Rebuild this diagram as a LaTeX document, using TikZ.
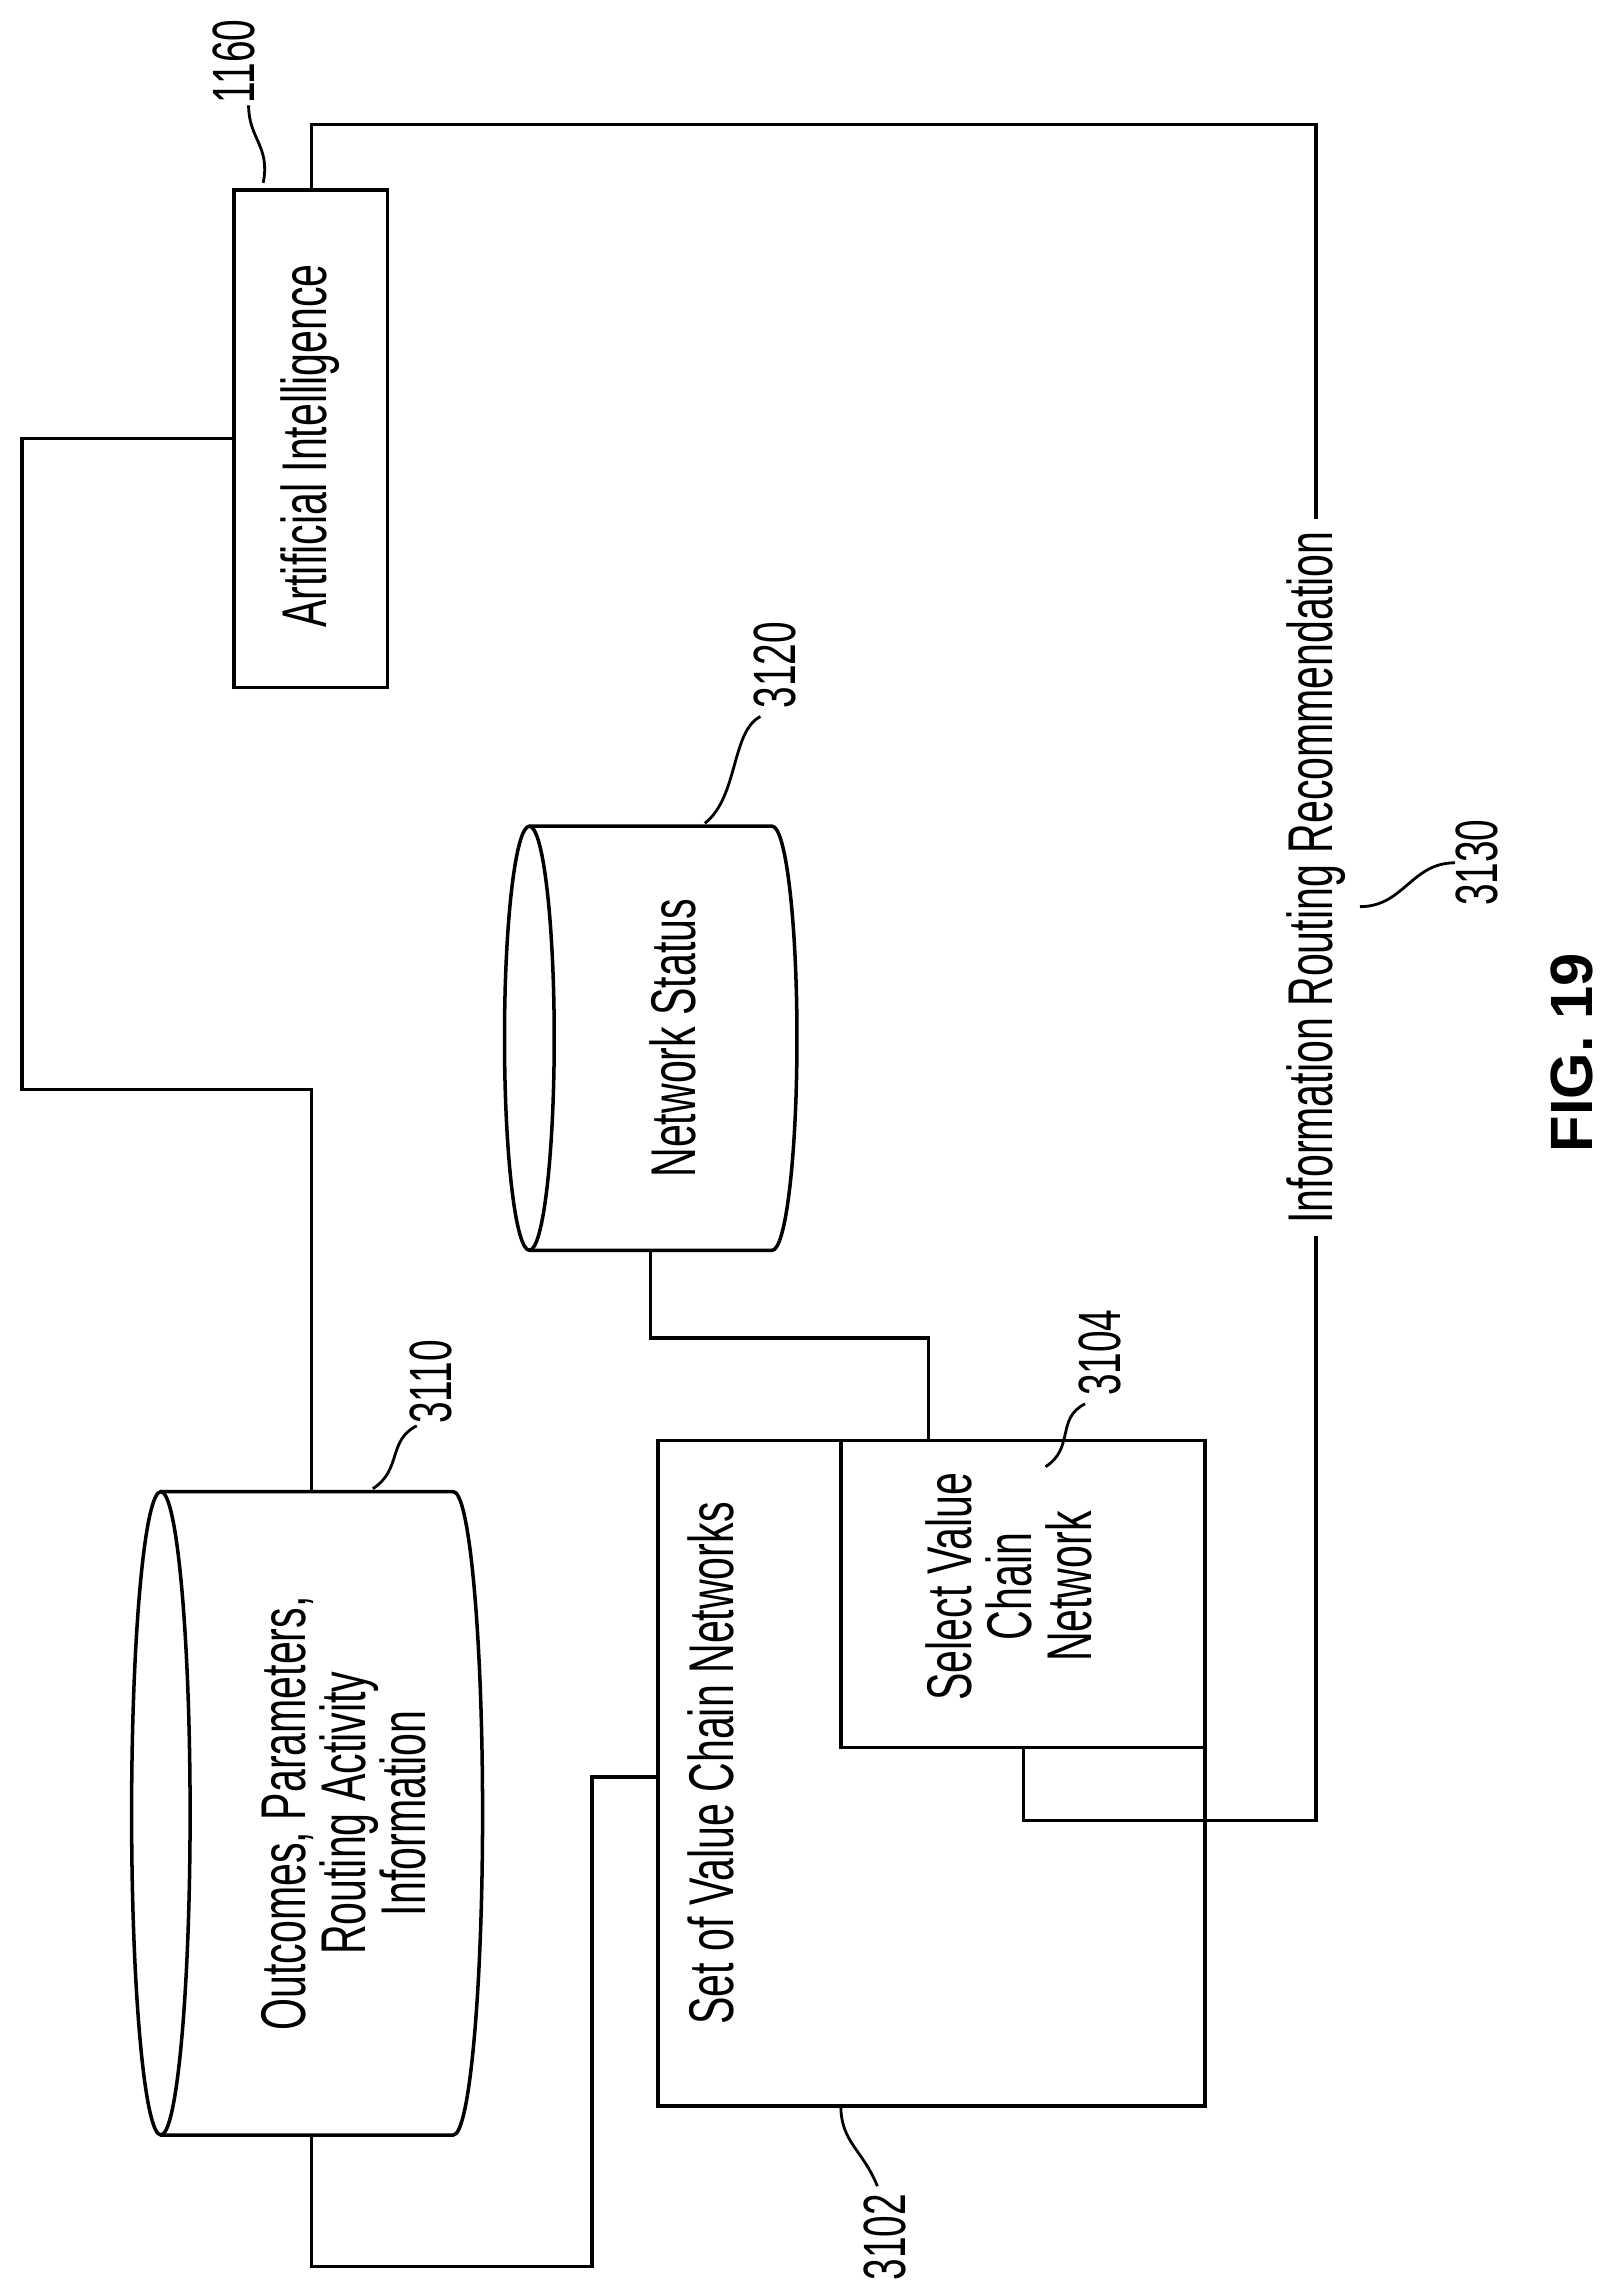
\documentclass[tikz,border=0pt]{standalone}
\usepackage{fontspec}
\setmainfont{Liberation Sans}
\newfontfamily\narrowsans{Liberation Sans}[FakeStretch=0.65]
\usetikzlibrary{positioning}
\tikzset{
  box/.style={draw,line width=1pt},
  txt/.style={rotate=90,font=\narrowsans\fontsize{18}{17}\selectfont,align=center},
  lbl/.style={rotate=90,font=\narrowsans\fontsize{17}{17}\selectfont},
  wire/.style={line width=1pt},
  lead/.style={line width=0.8pt}
}
\begin{document}
\begin{tikzpicture}[x=0.014627cm,y=-0.014627cm]
\useasboundingbox (0,0) rectangle (1100,1566);
% boxes
\draw[box] (160,130) rectangle (265,470);
\node[txt] (ai) at (212,305) {Artificial Intelligence};
\draw[box] (450,985) rectangle (824,1440);
\node[txt,anchor=north west] (set) at (462,1393) {Set of Value Chain Networks};
\draw[box] (575,985) rectangle (824,1195);
\node[txt] (sel) at (690,1085) {Select Value\\Chain\\Network};
% cylinders
\draw[box] (110,1240) ellipse [x radius=20,y radius=220];
\draw[box] (110,1020) -- (310,1020) arc[start angle=-90,end angle=90,x radius=20,y radius=220] -- (110,1460);
\node[txt] (out) at (235,1240) {Outcomes, Parameters,\\Routing Activity\\Information};
\draw[box] (362,710) ellipse [x radius=17,y radius=145];
\draw[box] (362,565) -- (528,565) arc[start angle=-90,end angle=90,x radius=17,y radius=145] -- (362,855);
\node[txt] (net) at (460,710) {Network Status};
% connectors
\draw[wire] (160,300) -- (15,300) -- (15,745) -- (213,745) -- (213,1020);
\draw[wire] (213,1460) -- (213,1550) -- (405,1550) -- (405,1215) -- (450,1215);
\draw[wire] (445,855) -- (445,915) -- (635,915) -- (635,985);
\node[txt] (route) at (900,600) {Information Routing Recommendation};
\draw[wire] (700,1195) -- (700,1245) -- (900,1245) -- (route.west);
\draw[wire] (route.east) -- (900,85) -- (213,85) -- (213,130);
\node[rotate=90,font=\bfseries\fontsize{17}{20}\selectfont\rmfamily] (fig) at (1075,720) {FIG. 19};
% reference numerals
\node[lbl] (n1160) at (160,42) {1160};
\draw[lead] (170,72) .. controls (170,95) and (185,100) .. (180,125);
\node[lbl] (n3110) at (295,945) {3110};
\draw[lead] (285,975) .. controls (265,985) and (275,1005) .. (255,1018);
\node[lbl] (n3120) at (530,455) {3120};
\draw[lead] (520,490) .. controls (500,500) and (505,545) .. (482,563);
\node[lbl] (n3104) at (752,925) {3104};
\draw[lead] (742,960) .. controls (722,970) and (735,990) .. (715,1003);
\node[lbl] (n3130) at (1010,590) {3130};
\draw[lead] (995,590) .. controls (965,590) and (960,620) .. (930,620);
\node[lbl] (n3102) at (605,1530) {3102};
\draw[lead] (600,1495) .. controls (590,1470) and (575,1465) .. (575,1440);
\end{tikzpicture}
\end{document}
